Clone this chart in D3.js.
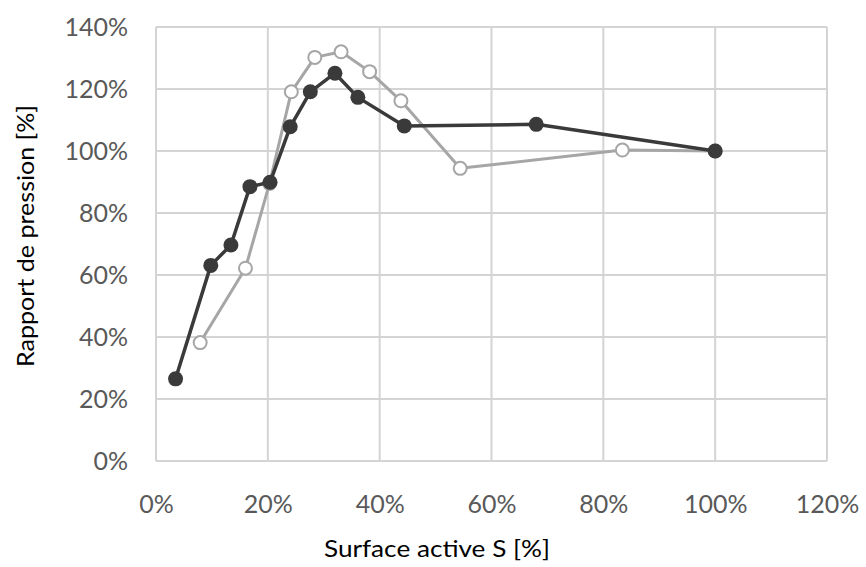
<!DOCTYPE html>
<html><head><meta charset="utf-8">
<script src="https://cdn.jsdelivr.net/npm/d3@7"></script>
<style>body{margin:0;background:#fff}</style>
</head><body>
<svg id="c" width="866" height="567"></svg>
<script>
const xTicks = [0, 20, 40, 60, 80, 100, 120];
const yTicks = [0, 20, 40, 60, 80, 100, 120, 140];
const darkX = [3.5, 9.8, 13.4, 16.8, 20.4, 24.0, 27.6, 32.0, 36.1, 44.4, 68.0, 100];
const darkY = [26.5, 63.1, 69.7, 88.5, 89.9, 107.8, 119.1, 125.1, 117.3, 108.1, 108.6, 100];
const grayX = [7.9, 16.0, 20.3, 24.2, 28.4, 33.1, 38.2, 43.8, 54.4, 83.4, 100];
const grayY = [38.2, 62.2, 89.5, 119.1, 130.2, 132.0, 125.6, 116.2, 94.4, 100.3, 100];
const xTitle = "Surface active S [%]";
const yTitle = "Rapport de pression [%]";

const svg = d3.select("#c");
const x = d3.scaleLinear().domain([0, 120]).range([156, 827]);
const y = d3.scaleLinear().domain([0, 140]).range([461, 27]);
const grid = "#d4d4d4";

// grid
svg.append("g").selectAll("line").data(yTicks).join("line")
  .attr("x1", x(0)).attr("x2", x(120)).attr("y1", d => y(d)).attr("y2", d => y(d))
  .attr("stroke", grid).attr("stroke-width", 2);
svg.append("g").selectAll("line").data(xTicks).join("line")
  .attr("y1", y(0)).attr("y2", y(140)).attr("x1", d => x(d)).attr("x2", d => x(d))
  .attr("stroke", grid).attr("stroke-width", 2);

// axes labels via d3 axes
const font = "Lato, 'Open Sans', sans-serif";
const yAxis = svg.append("g").attr("transform", `translate(${x(0)},0)`)
  .call(d3.axisLeft(y).tickValues(yTicks).tickFormat(d => d + "%").tickSize(0).tickPadding(28));
const xAxis = svg.append("g").attr("transform", `translate(0,${y(0)})`)
  .call(d3.axisBottom(x).tickValues(xTicks).tickFormat(d => d + "%").tickSize(0).tickPadding(33));
[yAxis, xAxis].forEach(a => {
  a.select(".domain").remove();
  a.selectAll("text").attr("font-family", font).attr("font-size", 25).attr("fill", "#595959");
});
xAxis.selectAll("text").attr("dy", "0.32em").attr("y", 44);

// titles
svg.append("text").attr("x", 437).attr("y", 551).attr("text-anchor", "middle")
  .attr("dominant-baseline", "middle").attr("font-family", font).attr("font-size", 24)
  .attr("textLength", 226).attr("lengthAdjust", "spacingAndGlyphs")
  .attr("fill", "#000").text(xTitle);
svg.append("text").attr("transform", "translate(28,236) rotate(-90)").attr("text-anchor", "middle")
  .attr("dominant-baseline", "middle").attr("font-family", font).attr("font-size", 24)
  .attr("textLength", 262).attr("lengthAdjust", "spacingAndGlyphs")
  .attr("fill", "#000").text(yTitle);

const line = d3.line().x(d => x(d[0])).y(d => y(d[1]));
const gray = grayX.map((v, i) => [v, grayY[i]]);
const dark = darkX.map((v, i) => [v, darkY[i]]);

svg.append("path").datum(gray).attr("d", line).attr("fill", "none")
  .attr("stroke", "#a6a6a6").attr("stroke-width", 3).attr("stroke-linejoin", "round");
svg.append("g").selectAll("circle").data(gray).join("circle")
  .attr("cx", d => x(d[0])).attr("cy", d => y(d[1])).attr("r", 6.5)
  .attr("fill", "#fff").attr("stroke", "#a6a6a6").attr("stroke-width", 2);

svg.append("path").datum(dark).attr("d", line).attr("fill", "none")
  .attr("stroke", "#3a3a3a").attr("stroke-width", 3.5).attr("stroke-linejoin", "round");
svg.append("g").selectAll("circle").data(dark).join("circle")
  .attr("cx", d => x(d[0])).attr("cy", d => y(d[1])).attr("r", 7.5)
  .attr("fill", "#3a3a3a");
</script>
</body></html>
